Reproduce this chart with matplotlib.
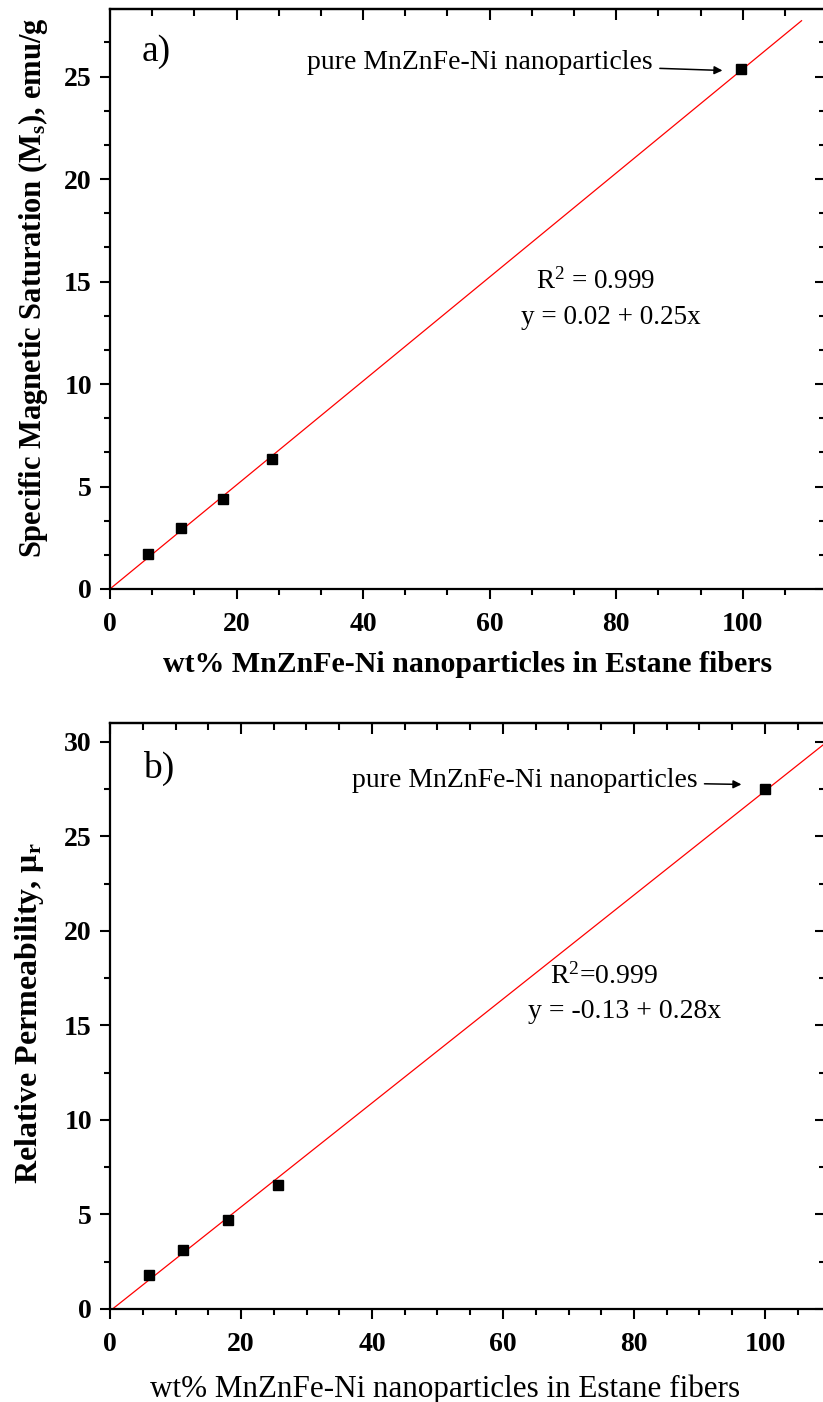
import numpy as np
import matplotlib
matplotlib.use("Agg")
import matplotlib.pyplot as plt
from matplotlib.ticker import MultipleLocator, AutoMinorLocator

plt.rcParams['font.family'] = ['Liberation Serif', 'DejaVu Serif']
plt.rcParams['mathtext.fontset'] = 'custom'
plt.rcParams['mathtext.rm'] = 'Liberation Serif'
plt.rcParams['mathtext.it'] = 'Liberation Serif:italic'
plt.rcParams['mathtext.bf'] = 'Liberation Serif:bold'
plt.rcParams['mathtext.default'] = 'regular'

# panel a) specific magnetic saturation
wt_a = [5.95, 11.3, 17.9, 25.6, 99.8]
ms_a = [1.71, 2.96, 4.37, 6.33, 25.37]
# panel b) relative permeability
wt_b = [5.9, 11.2, 18.0, 25.6, 100.0]
mu_b = [1.82, 3.10, 4.69, 6.58, 27.49]

W, H = 823, 1402
fig = plt.figure(figsize=(W / 100, H / 100), dpi=100)


def px_axes(left, top, right, bottom):
    return fig.add_axes([left / W, 1 - bottom / H, (right - left) / W, (bottom - top) / H])


def style_axes(ax, xmaj, xminor_n, ymaj, yminor_n):
    for s in ax.spines.values():
        s.set_linewidth(1.6)
    ax.xaxis.set_major_locator(MultipleLocator(xmaj))
    ax.xaxis.set_minor_locator(AutoMinorLocator(xminor_n))
    ax.yaxis.set_major_locator(MultipleLocator(ymaj))
    ax.yaxis.set_minor_locator(AutoMinorLocator(yminor_n))
    ax.tick_params(which='major', direction='out', length=7.5, width=1.5, labelsize=20)
    ax.tick_params(which='minor', direction='out', length=4.5, width=1.5)
    ax.tick_params(axis='x', which='major', pad=9)
    ax.tick_params(axis='y', which='major', pad=5.5)
    for lab in ax.get_xticklabels() + ax.get_yticklabels():
        lab.set_fontweight('bold')
    # top / right ticks point inward, no labels
    top = ax.secondary_xaxis('top')
    right = ax.secondary_yaxis('right')
    for sec, axis in ((top, top.xaxis), (right, right.yaxis)):
        axis.set_major_locator(MultipleLocator(xmaj if sec is top else ymaj))
        axis.set_minor_locator(AutoMinorLocator(xminor_n if sec is top else yminor_n))
        sec.tick_params(which='major', direction='in', length=8, width=1.5,
                        labeltop=False, labelright=False)
        sec.tick_params(which='minor', direction='in', length=5, width=1.5)
        for s in sec.spines.values():
            s.set_linewidth(1.6)


def draw_panel(ax, x, y, xend):
    ax.plot(x, y, 's', color='black', markersize=7.8, zorder=3)
    k, b = np.polyfit(x, y, 1)
    xf = np.array([0, xend])
    ax.plot(xf, b + k * xf, color='red', linewidth=0.9, zorder=2)


arrow = dict(arrowstyle='-|>', color='black', lw=1.1, mutation_scale=12,
             shrinkA=3, shrinkB=0)

# ---- panel a ----
ax1 = px_axes(110, 9, 826, 589)
ax1.set_xlim(0, (826 - 110) / 6.327)
ax1.set_ylim(0, 28.3)
draw_panel(ax1, wt_a, ms_a, 109.3)
style_axes(ax1, 20, 3, 5, 3)
ax1.set_xlabel('wt% MnZnFe-Ni nanoparticles in Estane fibers', fontsize=21.5,
               fontweight='bold', labelpad=10)
ax1.set_ylabel('Specific Magnetic Saturation (M$_s$), emu/g', fontsize=22,
               fontweight='bold', labelpad=10)
ax1.yaxis.label.set_y(0.519)
ax1.text(5, 26.2, 'a)', fontsize=27, va='center', ha='left')
ax1.annotate('pure MnZnFe-Ni nanoparticles', xy=(96.8, 25.3), xytext=(85.8, 25.7),
             fontsize=20, ha='right', va='center', arrowprops=arrow)
ax1.text(67.3, 15.0, 'R$^2$ = 0.999', fontsize=19.5, ha='left', va='center')
ax1.text(65.0, 13.25, 'y = 0.02 + 0.25x', fontsize=19.5, ha='left', va='center')

# ---- panel b ----
ax2 = px_axes(110, 723, 826, 1309)
ax2.set_xlim(0, (826 - 110) / 6.55)
ax2.set_ylim(0, 31.0)
draw_panel(ax2, wt_b, mu_b, 110)
style_axes(ax2, 20, 4, 5, 2)
ax2.set_xlabel('wt% MnZnFe-Ni nanoparticles in Estane fibers', fontsize=22.4,
               labelpad=12.5)
ax2.xaxis.label.set_x(0.468)
ax2.set_ylabel('Relative Permeability, μ$_r$', fontsize=23, fontweight='bold',
               labelpad=13)
ax2.yaxis.label.set_y(0.505)
ax2.text(5, 28.6, 'b)', fontsize=27, va='center', ha='left')
ax2.annotate('pure MnZnFe-Ni nanoparticles', xy=(96.4, 27.75), xytext=(89.7, 27.95),
             fontsize=20, ha='right', va='center', arrowprops=arrow)
ax2.text(67.2, 17.6, 'R$^2$=0.999', fontsize=20, ha='left', va='center')
ax2.text(63.8, 15.75, 'y = -0.13 + 0.28x', fontsize=20, ha='left', va='center')

fig.savefig('out.png', dpi=100)
